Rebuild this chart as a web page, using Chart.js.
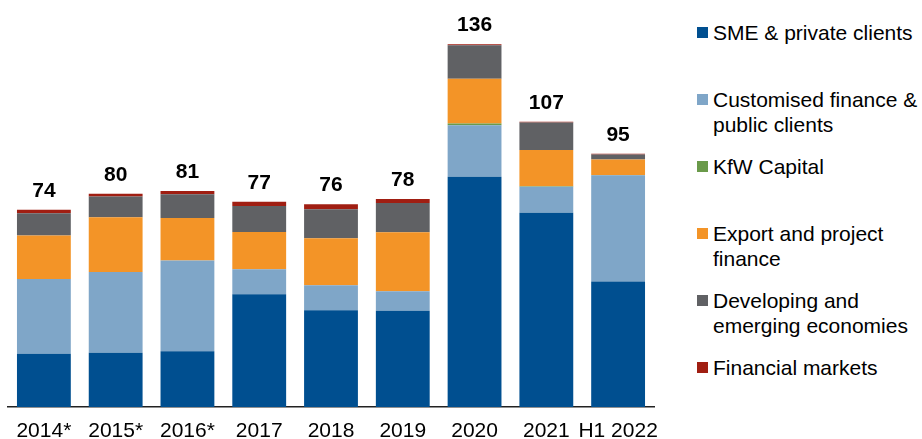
<!DOCTYPE html>
<html>
<head>
<meta charset="utf-8">
<script src="https://cdn.jsdelivr.net/npm/chart.js@4"></script>
<style>
  body { margin: 0; background: #fff; font-family: "Liberation Sans", Arial, sans-serif; }
  #wrap { position: relative; width: 922px; height: 439px; }
  #box { position: absolute; left: 0; top: 0; width: 662px; height: 439px; }
  #legend { position: absolute; left: 697px; top: 20px; }
  .item { position: relative; height: 67px; padding-left: 16px; font-size: 21px; line-height: 25px; color: #000; white-space: nowrap; }
  .item span { position: absolute; left: 0; top: 7px; width: 11px; height: 11px; }
</style>
</head>
<body>
<div id="wrap">
  <div id="box"><canvas id="chart"></canvas></div>
  <div id="legend"></div>
</div>
<script>
// categories
var years = ['2014*', '2015*', '2016*', '2017', '2018', '2019', '2020', '2021', 'H1 2022'];

// series (EUR bn)
var sme       = [20.0, 20.3, 20.9, 42.3, 36.3, 36.1, 86.3, 72.8, 47.1];
var custom    = [28.0, 30.3, 34.0,  9.4,  9.4,  7.3, 19.4,  9.8, 39.8];
var kfwCap    = [ 0.0,  0.0,  0.0,  0.0,  0.0,  0.0,  0.6,  0.2,  0.1];
var exportFin = [16.3, 20.6, 16.0, 13.9, 17.6, 22.1, 16.8, 13.6,  5.8];
var develop   = [ 8.4,  7.7,  8.9,  9.8, 10.9, 11.0, 12.6, 10.3,  1.9];
var finMarket = [ 1.3,  1.1,  1.2,  1.6,  1.8,  1.5,  0.3,  0.3,  0.3];

// legend text lines
var names = [
  ['SME & private clients'],
  ['Customised finance &', 'public clients'],
  ['KfW Capital'],
  ['Export and project', 'finance'],
  ['Developing and', 'emerging economies'],
  ['Financial markets']
];
var colors = ['#004f90', '#7fa6c8', '#6a9a4a', '#f39427', '#606164', '#a01e12'];
var series = [sme, custom, kfwCap, exportFin, develop, finMarket];

var datasets = series.map(function (d, i) {
  return {
    label: names[i].join(' '),
    data: d,
    backgroundColor: colors[i],
    borderWidth: 0,
    barPercentage: 0.75,
    categoryPercentage: 1
  };
});

// totals on top of the bars
var totals = {
  id: 'totals',
  afterDatasetsDraw: function (chart) {
    var ctx = chart.ctx;
    var x = chart.scales.x, y = chart.scales.y;
    ctx.save();
    ctx.font = 'bold 21px "Liberation Sans", Arial, sans-serif';
    ctx.fillStyle = '#000';
    ctx.textAlign = 'center';
    ctx.textBaseline = 'alphabetic';
    years.forEach(function (c, i) {
      var sum = 0;
      series.forEach(function (s) { sum += s[i]; });
      ctx.fillText(Math.round(sum), x.getPixelForValue(i), y.getPixelForValue(sum) - 13);
    });
    ctx.restore();
  }
};

var ctx = document.getElementById('chart').getContext('2d');
var chart = new Chart(ctx, {
  type: 'bar',
  data: { labels: years, datasets: datasets },
  options: {
    responsive: true,
    maintainAspectRatio: false,
    animation: false,
    layout: { padding: { left: 8, right: 8, top: 7, bottom: 0 } },
    plugins: { legend: { display: false }, tooltip: { enabled: false } },
    scales: {
      x: {
        stacked: true,
        grid: { display: false, drawTicks: false },
        border: { display: true, color: '#222', width: 1.5 },
        ticks: {
          color: '#000',
          padding: 12,
          autoSkip: false,
          maxRotation: 0,
          minRotation: 0,
          font: { family: '"Liberation Sans", Arial, sans-serif', size: 21 }
        },
        afterFit: function (s) { s.height = 32; s.paddingLeft = 0; s.paddingRight = 0; }
      },
      y: { stacked: true, display: false, min: 0, max: 150 }
    }
  },
  plugins: [totals]
});

// html legend built from the datasets
var lg = document.getElementById('legend');
names.forEach(function (lines, i) {
  var div = document.createElement('div');
  div.className = 'item';
  div.innerHTML = '<span style="background:' + colors[i] + '"></span>' + lines.map(function (t) {
    return t.replace('&', '&amp;');
  }).join('<br>');
  lg.appendChild(div);
});
</script>
</body>
</html>
